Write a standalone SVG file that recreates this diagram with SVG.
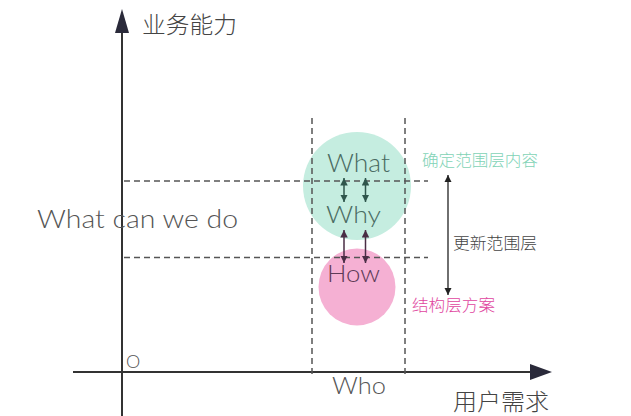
<svg xmlns="http://www.w3.org/2000/svg" width="631" height="416" viewBox="0 0 631 416">
<style>
.en{font-family:Lato,"Liberation Sans","Noto Sans",sans-serif;font-weight:300}
.cn{font-family:"Noto Sans CJK SC","Noto Sans",sans-serif;font-weight:300}
.dash{stroke:#555;stroke-width:1.5;stroke-dasharray:6 4;fill:none}
.axis{stroke:#333;stroke-width:2;fill:none}
</style>
<defs>
<marker id="ah" viewBox="0 0 10 10" refX="10" refY="5" markerWidth="5" markerHeight="5" orient="auto-start-reverse" markerUnits="strokeWidth"><path d="M0,0 L10,5 L0,10 z" fill="context-stroke"/></marker>
<marker id="ahBig" viewBox="0 0 10 10" refX="10" refY="5" markerWidth="5.5" markerHeight="7" orient="auto-start-reverse" markerUnits="strokeWidth"><path d="M0,0 L10,5 L0,10 z" fill="#222"/></marker>
</defs>
<rect width="631" height="416" fill="#fff"/>
<g id="circles">
<circle id="what-circle" cx="357" cy="186" r="54" fill="#c5ede0"/>
<circle id="how-circle" cx="357" cy="287" r="38.5" fill="#f5b0d3"/>
</g>
<g id="connectors">
<line class="axis" x1="122" y1="416" x2="122" y2="30"/>
<path d="M122,9 L129,33 L115,33 z" fill="#2a2a3a"/>
<line class="axis" x1="73" y1="372" x2="532" y2="372"/>
<path d="M552,372 L530,364 L530,380 z" fill="#2a2a3a"/>
<line class="dash" x1="312" y1="118" x2="312" y2="376"/>
<line class="dash" x1="405" y1="118" x2="405" y2="376"/>
<line class="dash" x1="124" y1="181" x2="428" y2="181"/>
<line class="dash" x1="124" y1="257.5" x2="428" y2="257.5"/>
<line x1="448" y1="175" x2="448" y2="295" stroke="#222" stroke-width="1.3" marker-start="url(#ahBig)" marker-end="url(#ahBig)"/>
<line x1="344" y1="178" x2="344" y2="202" stroke="#2f564c" stroke-width="1.5" marker-start="url(#ah)" marker-end="url(#ah)"/>
<line x1="365.5" y1="178" x2="365.5" y2="202" stroke="#2f564c" stroke-width="1.5" marker-start="url(#ah)" marker-end="url(#ah)"/>
<line x1="344" y1="230" x2="344" y2="263" stroke="#4a2d45" stroke-width="1.5" marker-start="url(#ah)" marker-end="url(#ah)"/>
<line x1="365.5" y1="230" x2="365.5" y2="263" stroke="#4a2d45" stroke-width="1.5" marker-start="url(#ah)" marker-end="url(#ah)"/>
</g>
<g id="labels">
<text class="cn" x="142" y="33" font-size="23" fill="#444" textLength="95" lengthAdjust="spacingAndGlyphs">业务能力</text>
<text class="cn" x="453" y="410" font-size="23" fill="#444" textLength="96" lengthAdjust="spacingAndGlyphs">用户需求</text>
<text class="en" x="126" y="368" font-size="18" fill="#555">O</text>
<text class="en" x="332" y="394" font-size="24" fill="#555" textLength="54" lengthAdjust="spacingAndGlyphs">Who</text>
<text class="en" x="37" y="228" font-size="25" fill="#555" textLength="201" lengthAdjust="spacingAndGlyphs">What can we do</text>
<text class="en" x="327" y="171.5" font-size="25" fill="#4a6b62" textLength="63" lengthAdjust="spacingAndGlyphs">What</text>
<text class="en" x="326" y="223" font-size="24" fill="#4a6b62" textLength="55" lengthAdjust="spacingAndGlyphs">Why</text>
<text class="en" x="327" y="281.5" font-size="24" fill="#5e3b57" textLength="53" lengthAdjust="spacingAndGlyphs">How</text>
<text class="cn" x="422" y="166" font-size="16" fill="#7fd3b6" textLength="116" lengthAdjust="spacingAndGlyphs">确定范围层内容</text>
<text class="cn" x="453" y="249" font-size="16" fill="#444" textLength="84" lengthAdjust="spacingAndGlyphs">更新范围层</text>
<text class="cn" x="412" y="311" font-size="16" fill="#e0459e" textLength="83" lengthAdjust="spacingAndGlyphs">结构层方案</text>
</g>
</svg>
